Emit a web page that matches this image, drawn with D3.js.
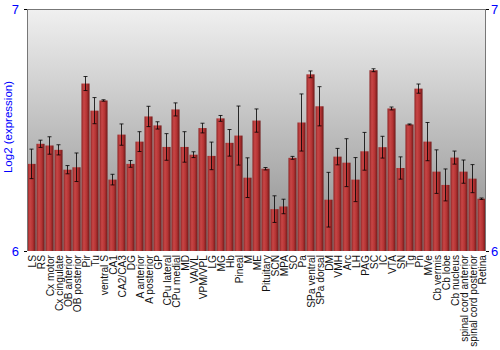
<!DOCTYPE html>
<html lang="en">
<head>
    <meta charset="UTF-8">
    <title>Log2 expression by region</title>
    <script src="https://d3js.org/d3.v7.min.js"></script>
    <style>
        body { margin: 0; padding: 0; background: #fff; font-family: "Liberation Sans", Arial, sans-serif; }
        svg { display: block; }
    </style>
</head>
<body>
    <div id="chart"></div>
    <script>
        const regions = ["LS", "RS", "Cx motor", "Cx cingulate", "OB anterior", "OB posterior", "Pir", "Tu",
            "ventral S", "CA1", "CA2/CA3", "DG", "A anterior", "A posterior", "GP", "CPu lateral", "CPu medial",
            "MD", "VA/VL", "VPM/VPL", "LG", "MG", "Hb", "Pineal", "M", "ME", "Pituitary", "SCN", "MPA", "SO",
            "Pa", "SPa ventral", "SPa dorsal", "DM", "VMH", "Arc", "LH", "PAG", "SC", "IC", "VTA", "SN", "Tg",
            "Pn", "MVe", "Cb vermis", "Cb lobe", "Cb nucleus", "spinal cord anterior", "spinal cord posterior", "Retina"];

        const expression = [6.36, 6.443, 6.436, 6.418, 6.336, 6.346, 6.692, 6.58,
            6.622, 6.295, 6.481, 6.36, 6.452, 6.556, 6.519, 6.43, 6.585,
            6.43, 6.398, 6.508, 6.393, 6.548, 6.447, 6.477, 6.303, 6.539, 6.34, 6.173, 6.184, 6.385,
            6.531, 6.73, 6.598, 6.212, 6.39, 6.365, 6.295, 6.412, 6.747, 6.429, 6.589, 6.343, 6.523,
            6.671, 6.452, 6.328, 6.273, 6.386, 6.328, 6.299, 6.216];

        const errors = [0.061, 0.015, 0.036, 0.021, 0.017, 0.059, 0.029, 0.054,
            0.003, 0.022, 0.044, 0.014, 0.041, 0.042, 0.015, 0.055, 0.027,
            0.063, 0.012, 0.020, 0.057, 0.012, 0.055, 0.122, 0.082, 0.048, 0.005, 0.055, 0.030, 0.006,
            0.118, 0.014, 0.081, 0.113, 0.034, 0.099, 0.091, 0.078, 0.006, 0.045, 0.006, 0.046, 0.002,
            0.019, 0.079, 0.090, 0.066, 0.027, 0.048, 0.058, 0.003];

        const yTicks = [6, 7];

        const width = 500, height = 350;
        const margin = {top: 9, right: 14, bottom: 99, left: 27};
        const innerW = width - margin.left - margin.right;
        const innerH = height - margin.top - margin.bottom;

        const svg = d3.select("#chart").append("svg")
            .attr("width", width)
            .attr("height", height);

        const defs = svg.append("defs");

        // background gradient
        const bg = defs.append("linearGradient")
            .attr("id", "bg").attr("x1", 0).attr("y1", 0).attr("x2", 0).attr("y2", 1);
        bg.append("stop").attr("offset", "0%").attr("stop-color", "#f0f0f0");
        bg.append("stop").attr("offset", "100%").attr("stop-color", "#8c8c8c");

        // bar gradient (cylinder look)
        const bar = defs.append("linearGradient")
            .attr("id", "bar").attr("x1", 0).attr("y1", 0).attr("x2", 1).attr("y2", 0);
        bar.append("stop").attr("offset", "0%").attr("stop-color", "#8e2424");
        bar.append("stop").attr("offset", "30%").attr("stop-color", "#c84646");
        bar.append("stop").attr("offset", "65%").attr("stop-color", "#b43333");
        bar.append("stop").attr("offset", "100%").attr("stop-color", "#6e1818");

        const g = svg.append("g")
            .attr("transform", `translate(${margin.left},${margin.top})`);

        const x = d3.scaleBand()
            .domain(regions)
            .range([0, innerW])
            .paddingInner(0.1)
            .paddingOuter(0.05);

        const y = d3.scaleLinear()
            .domain([6, 7])
            .range([innerH, 0]);

        g.append("rect")
            .attr("width", innerW)
            .attr("height", innerH)
            .attr("fill", "url(#bg)");

        // bars
        g.selectAll(".bar")
            .data(regions)
            .enter()
            .append("rect")
            .attr("class", "bar")
            .attr("x", d => x(d))
            .attr("y", (d, i) => y(expression[i]))
            .attr("width", x.bandwidth())
            .attr("height", (d, i) => innerH - y(expression[i]))
            .attr("fill", "url(#bar)");

        // error bars
        const err = g.selectAll(".err")
            .data(regions)
            .enter()
            .append("g")
            .attr("class", "err")
            .attr("stroke", "rgba(0,0,0,0.8)")
            .attr("stroke-width", 1);

        err.append("line")
            .attr("x1", d => x(d) + x.bandwidth() / 2)
            .attr("x2", d => x(d) + x.bandwidth() / 2)
            .attr("y1", (d, i) => y(expression[i] - errors[i]))
            .attr("y2", (d, i) => y(expression[i] + errors[i]));

        [-1, 1].forEach(s => {
            err.append("line")
                .attr("x1", d => x(d) + x.bandwidth() / 2 - 2)
                .attr("x2", d => x(d) + x.bandwidth() / 2 + 2)
                .attr("y1", (d, i) => y(expression[i] + s * errors[i]))
                .attr("y2", (d, i) => y(expression[i] + s * errors[i]));
        });

        // frame lines
        g.append("line").attr("x1", 0).attr("x2", innerW).attr("y1", 0.5).attr("y2", 0.5)
            .attr("stroke", "#777");
        g.append("line").attr("x1", 0.5).attr("x2", 0.5).attr("y1", 0).attr("y2", innerH)
            .attr("stroke", "#777");
        g.append("line").attr("x1", innerW - 0.5).attr("x2", innerW - 0.5).attr("y1", 0).attr("y2", innerH)
            .attr("stroke", "#777");

        // left axis
        const left = g.append("g")
            .call(d3.axisLeft(y).tickValues(yTicks).tickFormat(d3.format("d")).tickSize(3).tickPadding(5));
        left.select(".domain").remove();
        left.selectAll("line").attr("stroke", "#000");
        left.selectAll("text").attr("fill", "#0000ff").style("font-size", "13px")
            .style("font-family", "Liberation Sans, Arial, sans-serif");

        // right axis
        const right = g.append("g")
            .attr("transform", `translate(${innerW},0)`)
            .call(d3.axisRight(y).tickValues(yTicks).tickFormat(d3.format("d")).tickSize(3).tickPadding(2));
        right.select(".domain").remove();
        right.selectAll("line").attr("stroke", "#000");
        right.selectAll("text").attr("fill", "#0000ff").style("font-size", "13px")
            .style("font-family", "Liberation Sans, Arial, sans-serif");

        // x labels
        g.selectAll(".xlabel")
            .data(regions)
            .enter()
            .append("text")
            .attr("class", "xlabel")
            .attr("transform", d => `translate(${x(d) + x.bandwidth() / 2 + 4},${innerH + 4}) rotate(-90)`)
            .attr("text-anchor", "end")
            .style("font-size", "10.2px")
            .attr("fill", "#111")
            .text(d => d);

        // y label
        svg.append("text")
            .attr("transform", `translate(12,${margin.top + 118}) rotate(-90)`)
            .attr("text-anchor", "middle")
            .attr("fill", "#0000ff")
            .style("font-size", "11.5px")
            .text("Log2 (expression)");
    </script>
</body>
</html>
